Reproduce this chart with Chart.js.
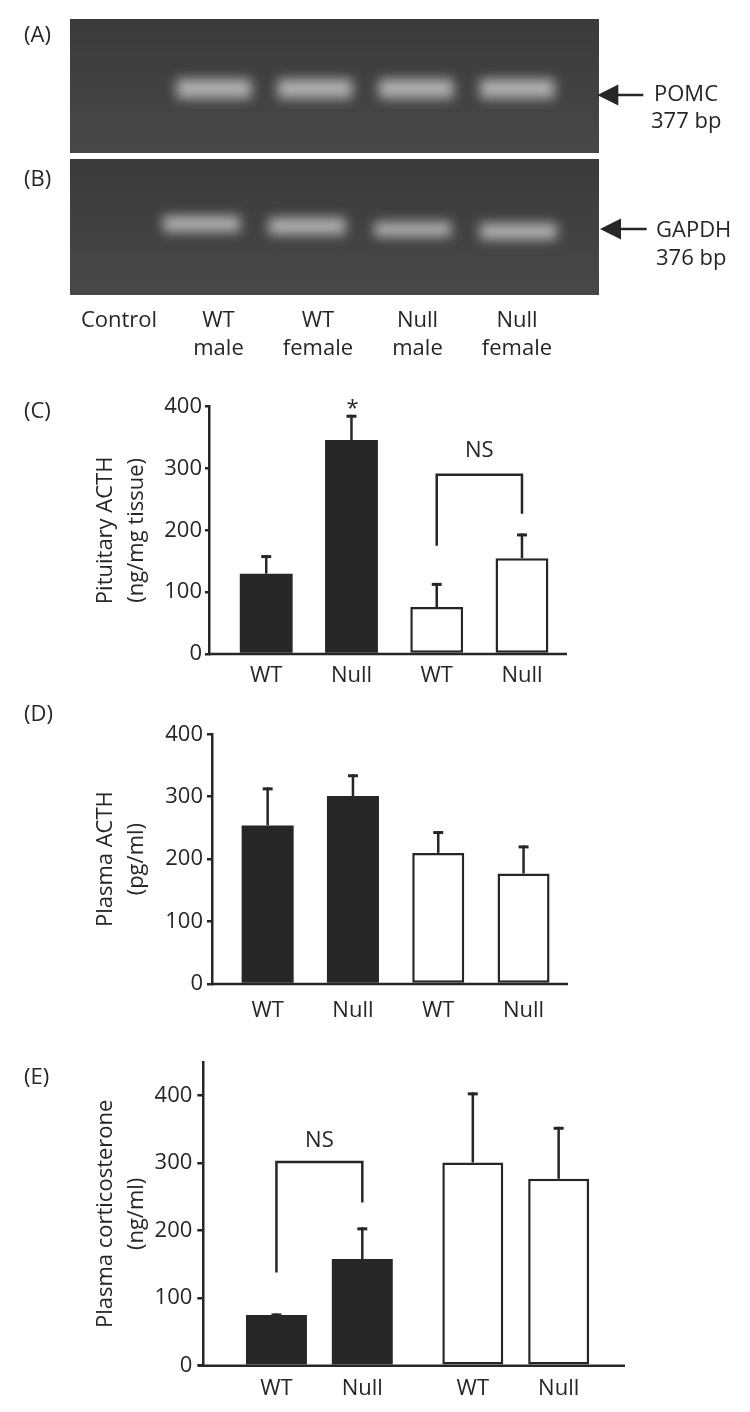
<!DOCTYPE html>
<html>
<head>
<meta charset="utf-8">
<script src="https://cdn.jsdelivr.net/npm/chart.js@4.4.1/dist/chart.umd.min.js"></script>
<style>
  body { margin: 0; background: #fff; }
  #page { position: relative; width: 750px; height: 1412px; overflow: hidden; }
  canvas, svg { position: absolute; left: 0; }
</style>
</head>
<body>
<div id="page">
  <canvas id="gelA" width="529" height="134" style="left:70px;top:19px"></canvas>
  <canvas id="gelB" width="529" height="136" style="left:70px;top:159px"></canvas>
  <canvas id="chartC" width="750" height="330" style="top:380px"></canvas>
  <canvas id="chartD" width="750" height="330" style="top:705px"></canvas>
  <canvas id="chartE" width="750" height="372" style="top:1040px"></canvas>
  <svg id="notes" width="750" height="1412" style="top:0"></svg>
</div>
<script>
// ===== DATA =====
// gel lanes (A, B)
const lanes = ["Control", "WT male", "WT female", "Null male", "Null female"];
// band position in each lane, % of gel height below the wells [top, bottom]
const pomcBands = [null, [45, 59], [45, 59], [45, 59], [45, 59]];
const gapdhBands = [null, [42, 53.5], [43.5, 55.5], [46.5, 57], [47.5, 59]];

// (C) pituitary ACTH, ng/mg tissue
const groups = ["WT", "Null", "WT", "Null"];
const acthPit = [130, 346, 76, 155];
const acthPitSem = [30, 41, 39, 40];
const sigC = ["", "*", "", ""];

// (D) plasma ACTH, pg/ml
const acthPlasma = [254, 301, 210, 177];
const acthPlasmaSem = [61, 35, 35, 45];

// (E) plasma corticosterone, ng/ml (filled group, open group)
const corticoGroups = ["Group 1", "Group 2"];
const corticoWT = [75, 301];
const corticoWTSem = [2.5, 104];
const corticoNull = [158, 277];
const corticoNullSem = [47, 77];

// NS brackets
const nsC = { from: 2, to: 3, top: 290, legs: [175, 227] };
const nsE = { from: 0, to: 1, top: 302, legs: [138, 242] };

// ===== STYLE =====
const ink = "#262626";
const FONT = "'Open Sans', sans-serif";
const font22 = { family: FONT, size: 22 };

// bars of a chart, left to right
function barsInOrder(chart) {
  const out = [];
  chart.data.datasets.forEach((ds, di) => {
    chart.getDatasetMeta(di).data.forEach((el, i) => {
      out.push({ el, value: ds.data[i], sem: ds.sem ? ds.sem[i] : 0, label: ds.label });
    });
  });
  return out.sort((a, b) => a.el.x - b.el.x);
}

// error bars + significance marks
const errorBars = {
  id: "errorBars",
  afterDatasetsDraw(chart, args, opts) {
    const y = chart.scales.y, ctx = chart.ctx;
    const marks = opts.marks || [];
    ctx.save();
    ctx.strokeStyle = ink;
    ctx.fillStyle = ink;
    barsInOrder(chart).forEach((b, i) => {
      const top = y.getPixelForValue(b.value + b.sem);
      ctx.lineWidth = 2.5;
      ctx.beginPath();
      ctx.moveTo(b.el.x, b.el.y);
      ctx.lineTo(b.el.x, top);
      ctx.stroke();
      ctx.lineWidth = 3;
      ctx.beginPath();
      ctx.moveTo(b.el.x - 5, top + 1.5);
      ctx.lineTo(b.el.x + 5, top + 1.5);
      ctx.stroke();
      if (marks[i]) {
        ctx.font = "22px " + FONT;
        ctx.textAlign = "center";
        ctx.textBaseline = "alphabetic";
        ctx.fillText(marks[i], b.el.x + 1, top);
      }
    });
    ctx.restore();
  }
};

// x axis line, starting a little left of the y axis
const baseline = {
  id: "baseline",
  afterDatasetsDraw(chart, args, opts) {
    const ctx = chart.ctx;
    const y0 = chart.scales.y.getPixelForValue(0);
    ctx.save();
    ctx.strokeStyle = ink;
    ctx.lineWidth = 2.5;
    ctx.beginPath();
    ctx.moveTo(chart.scales.y.right - (opts.overhang || 0), y0);
    ctx.lineTo(chart.chartArea.right + (opts.extend || 0), y0);
    ctx.stroke();
    ctx.restore();
  }
};

// NS bracket
const bracket = {
  id: "bracket",
  afterDatasetsDraw(chart, args, opts) {
    if (!opts.top) return;
    const y = chart.scales.y, ctx = chart.ctx, bars = barsInOrder(chart);
    const xa = bars[opts.from].el.x, xb = bars[opts.to].el.x;
    const yt = y.getPixelForValue(opts.top);
    ctx.save();
    ctx.strokeStyle = ink;
    ctx.lineWidth = 2.5;
    ctx.beginPath();
    ctx.moveTo(xa, y.getPixelForValue(opts.legs[0]));
    ctx.lineTo(xa, yt);
    ctx.lineTo(xb, yt);
    ctx.lineTo(xb, y.getPixelForValue(opts.legs[1]));
    ctx.stroke();
    ctx.fillStyle = ink;
    ctx.font = "22px " + FONT;
    ctx.textAlign = "center";
    ctx.textBaseline = "alphabetic";
    ctx.fillText("NS", (xa + xb) / 2, yt - opts.gap);
    ctx.restore();
  }
};

// category names written under each bar (grouped chart)
const barLabels = {
  id: "barLabels",
  afterDatasetsDraw(chart, args, opts) {
    if (!opts.offset) return;
    const ctx = chart.ctx, y0 = chart.scales.y.getPixelForValue(0);
    ctx.save();
    ctx.fillStyle = ink;
    ctx.font = "22px " + FONT;
    ctx.textAlign = "center";
    ctx.textBaseline = "alphabetic";
    barsInOrder(chart).forEach(b => ctx.fillText(b.label, b.el.x, y0 + opts.offset));
    ctx.restore();
  }
};

function barPanel(id, p) {
  return new Chart(document.getElementById(id), {
    type: "bar",
    data: { labels: p.labels, datasets: p.datasets },
    options: {
      responsive: false,
      animation: false,
      events: [],
      layout: { padding: p.padding },
      plugins: {
        legend: { display: false },
        tooltip: { enabled: false },
        errorBars: { marks: p.marks || [] },
        baseline: { overhang: p.overhang, extend: p.extend },
        bracket: p.ns ? Object.assign({ gap: p.nsGap }, p.ns) : {},
        barLabels: { offset: p.barLabelOffset || 0 }
      },
      scales: {
        x: {
          grid: { display: false, drawTicks: false },
          border: { display: false },
          ticks: { display: p.showTicks, color: ink, font: font22, padding: p.xPad },
          afterFit(s) { s.height = 45; }
        },
        y: {
          position: "left",
          weight: 1,
          min: 0,
          max: p.yMax,
          ticks: { stepSize: 100, includeBounds: false, color: ink, font: font22, padding: p.tickPad },
          grid: { drawOnChartArea: false, color: ink, lineWidth: 2.5, tickLength: p.tickLen },
          border: { color: ink, width: 2.5 },
          title: {
            display: true,
            text: p.title,
            color: ink,
            font: { family: FONT, size: 22, lineHeight: 1.38 },
            padding: { top: 6, bottom: 0 }
          },
          afterFit(s) { s.width = p.yWidth; }
        },
        gap: {
          type: "linear",
          position: "left",
          weight: 0,
          grid: { display: false, drawTicks: false },
          border: { display: false },
          ticks: { display: false },
          afterFit(s) { s.width = p.gap; }
        }
      }
    },
    plugins: [errorBars, baseline, bracket, barLabels]
  });
}

// first pair of bars filled, second pair open with an outline
const fillOf = i => (i < 2 ? ink : "#fff");
const edgeOf = i => (i < 2 ? 0 : 2.5);

// (C)
barPanel("chartC", {
  labels: groups,
  datasets: [{
    label: "Pituitary ACTH", data: acthPit, sem: acthPitSem,
    backgroundColor: groups.map((g, i) => fillOf(i)),
    borderWidth: groups.map((g, i) => edgeOf(i)),
    borderColor: ink, borderSkipped: false,
    categoryPercentage: 1, barPercentage: 0.62
  }],
  padding: { left: 85, top: 26.7, right: 185.4, bottom: 11 },
  yWidth: 124, gap: 14.6, yMax: 400, tickLen: 4, tickPad: 3,
  title: ["Pituitary ACTH", "(ng/mg tissue)"],
  showTicks: true, xPad: 9, overhang: 0, extend: 2.4,
  marks: sigC, ns: nsC, nsGap: 17.5
});

// (D)
barPanel("chartD", {
  labels: groups,
  datasets: [{
    label: "Plasma ACTH", data: acthPlasma, sem: acthPlasmaSem,
    backgroundColor: groups.map((g, i) => fillOf(i)),
    borderWidth: groups.map((g, i) => edgeOf(i)),
    borderColor: ink, borderSkipped: false,
    categoryPercentage: 1, barPercentage: 0.61
  }],
  padding: { left: 85, top: 29.3, right: 183.8, bottom: 6 },
  yWidth: 127, gap: 13, yMax: 400, tickLen: 5, tickPad: 4,
  title: ["Plasma ACTH", "(pg/ml)"],
  showTicks: true, xPad: 14, overhang: 0, extend: 1.8
});

// (E)
barPanel("chartE", {
  labels: corticoGroups,
  datasets: [
    {
      label: "WT", data: corticoWT, sem: corticoWTSem,
      backgroundColor: [ink, "#fff"], borderWidth: [0, 2.5],
      borderColor: ink, borderSkipped: false,
      categoryPercentage: 0.8745, barPercentage: 0.71
    },
    {
      label: "Null", data: corticoNull, sem: corticoNullSem,
      backgroundColor: [ink, "#fff"], borderWidth: [0, 2.5],
      borderColor: ink, borderSkipped: false,
      categoryPercentage: 0.8745, barPercentage: 0.71
    }
  ],
  padding: { left: 85, top: 22, right: 136.1, bottom: 1.3 },
  yWidth: 118.3, gap: 17.9, yMax: 450, tickLen: 6, tickPad: 5,
  title: ["Plasma corticosterone", "(ng/ml)"],
  showTicks: false, xPad: 0, overhang: 5.3, extend: 11.1,
  ns: nsE, nsGap: 15, barLabelOffset: 29.5
});

// ===== GELS =====
const gelGlow = {
  id: "gelGlow",
  beforeDraw(chart) {
    const ctx = chart.ctx;
    const g = ctx.createLinearGradient(0, 0, 0, chart.height);
    g.addColorStop(0, "#3a3a3a");
    g.addColorStop(1, "#484848");
    ctx.save();
    ctx.fillStyle = g;
    ctx.fillRect(0, 0, chart.width, chart.height);
    ctx.restore();
  },
  beforeDatasetsDraw(chart) {
    chart.ctx.save();
    chart.ctx.filter = "blur(6px)";
  },
  afterDatasetsDraw(chart) {
    chart.ctx.restore();
  }
};

function gel(id, bands, thickness, pad) {
  return new Chart(document.getElementById(id), {
    type: "bar",
    data: {
      labels: lanes,
      datasets: [{ data: bands, backgroundColor: "rgba(195,195,195,0.85)", borderWidth: 0, barThickness: thickness, clip: false }]
    },
    options: {
      responsive: false,
      animation: false,
      events: [],
      layout: { padding: pad },
      plugins: { legend: { display: false }, tooltip: { enabled: false } },
      scales: {
        x: { display: false, offset: false },
        y: { display: false, min: 0, max: 100, reverse: true }
      }
    },
    plugins: [gelGlow]
  });
}

gel("gelA", pomcBands, 74, { left: 42.9, right: 81.7, top: 0, bottom: 0 });
gel("gelB", gapdhBands, 76, { left: 26, right: 80.6, top: 0, bottom: 0 });

// ===== LABELS AROUND THE GELS / PANELS =====
const svg = document.getElementById("notes");
const NS = "http://www.w3.org/2000/svg";
function addText(str, x, y, anchor) {
  const t = document.createElementNS(NS, "text");
  t.setAttribute("x", x);
  t.setAttribute("y", y);
  t.setAttribute("font-family", FONT);
  t.setAttribute("font-size", 22);
  t.setAttribute("fill", ink);
  t.setAttribute("text-anchor", anchor || "start");
  t.textContent = str;
  svg.appendChild(t);
}
function addArrow(tipX, y, endX) {
  const head = document.createElementNS(NS, "polygon");
  head.setAttribute("points", `${tipX},${y} ${tipX + 21},${y - 10.5} ${tipX + 21},${y + 10.5}`);
  head.setAttribute("fill", ink);
  svg.appendChild(head);
  const line = document.createElementNS(NS, "line");
  line.setAttribute("x1", tipX + 18);
  line.setAttribute("x2", endX);
  line.setAttribute("y1", y);
  line.setAttribute("y2", y);
  line.setAttribute("stroke", ink);
  line.setAttribute("stroke-width", 2.5);
  svg.appendChild(line);
}

addText("(A)", 24, 41.7);
addText("(B)", 24, 186.4);
addText("(C)", 24, 417.7);
addText("(D)", 24, 721);
addText("(E)", 24, 1084);

addArrow(597.3, 95, 643.3);
addText("POMC", 654, 100.5);
addText("377 bp", 651, 127.5);
addArrow(600, 229, 646.7);
addText("GAPDH", 656, 237.3);
addText("376 bp", 656, 265);

lanes.forEach((name, i) => {
  const x = 119 + i * 99.5;
  name.split(" ").forEach((part, k) => addText(part, x, 327 + k * 28, "middle"));
});
</script>
</body>
</html>
